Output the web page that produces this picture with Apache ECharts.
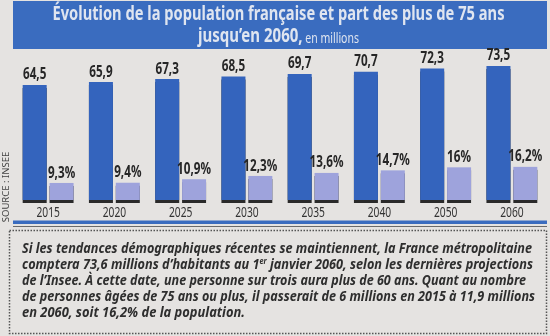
<!DOCTYPE html>
<html><head><meta charset="utf-8">
<script src="https://cdn.jsdelivr.net/npm/echarts@6/dist/echarts.min.js"></script>
<style>html,body{margin:0;padding:0;background:#e5e3e1}#c{width:550px;height:336px}</style>
</head><body><div id="c"></div>
<script>
const years = ['2015','2020','2025','2030','2035','2040','2050','2060'];
const population = [64.5,65.9,67.3,68.5,69.7,70.7,72.3,73.5];
const share75 = [9.3,9.4,10.9,12.3,13.6,14.7,16,16.2];
const titleLine1 = 'Évolution de la population française et part des plus de 75 ans';
const titleLine2a = 'jusqu’en 2060,';
const titleLine2b = 'en millions';
const sourceText = 'SOURCE : INSEE';
const paragraph = [
  ['Si les tendances démographiques récentes se maintiennent, la France métropolitaine'],
  ['comptera 73,6 millions d’habitants au 1', 'er', ' janvier 2060, selon les dernières projections'],
  ['de l’Insee. À cette date, une personne sur trois aura plus de 60 ans. Quant au nombre'],
  ['de personnes âgées de 75 ans ou plus, il passerait de 6 millions en 2015 à 11,9 millions'],
  ['en 2060, soit 16,2% de la population.']
];

const FF = "'Noto Sans','Open Sans',sans-serif";
const fmt = v => String(v).replace('.', ',');
const ctx = document.createElement('canvas').getContext('2d');
const tw = (t, font) => { ctx.font = font; return ctx.measureText(t).width; };

// fonts
const fTitle = 'bold 20px ' + FF;
const fTitleSmall = '14px ' + FF;
const fPara = 'italic bold 14px ' + FF;
const fSup = 'italic bold 8px ' + FF;
const fVal = 'bold 16px ' + FF;
const fYear = '15px ' + FF;

// horizontal condensing factors (to mimic the condensed newspaper typeface)
const sVal = 23.4 / tw('64,5', fVal);
const sYear = 23.5 / tw('2015', fYear);
const sT1 = 452 / tw(titleLine1, fTitle);
const w2a = tw(titleLine2a, fTitle), w2b = tw(titleLine2b, fTitleSmall), wsp = tw(' ', fTitleSmall);
const sT2 = 161 / (w2a + wsp + w2b);

const graphics = [
  {type: 'rect', shape: {x: 13, y: 1, width: 534, height: 48}, style: {fill: '#3a6cbf'}},
  {type: 'text', x: 278.5, y: 21 - 0.32 * 20, scaleX: sT1,
    style: {text: titleLine1, font: fTitle, fill: '#dfe5f0', align: 'center', verticalAlign: 'middle'}},
  {type: 'text', x: 278.5 - 80.5, y: 43 - 0.32 * 20, scaleX: sT2,
    style: {text: titleLine2a, font: fTitle, fill: '#dfe5f0', align: 'left', verticalAlign: 'middle'}},
  {type: 'text', x: 278.5 - 80.5 + (w2a + wsp) * sT2, y: 43 - 0.32 * 14, scaleX: sT2,
    style: {text: titleLine2b, font: fTitleSmall, fill: '#dfe5f0', align: 'left', verticalAlign: 'middle'}},
  {type: 'rect', shape: {x: 13, y: 220.5, width: 534, height: 3.5}, style: {fill: '#3a6cbf'}},
  {type: 'rect', shape: {x: 13, y: 226, width: 534, height: 1}, style: {fill: '#6a6a6a'}},
  {type: 'rect', shape: {x: 9.5, y: 230.5, width: 537, height: 103}, style: {fill: 'none', stroke: '#555', lineWidth: 1.5, lineDash: [1.5, 1.5]}},
  {type: 'text', x: 6, y: 187, rotation: Math.PI / 2,
    style: {text: sourceText, font: '9.5px ' + FF, fill: '#444', align: 'center', verticalAlign: 'middle'}}
];

// paragraph lines, each condensed to fit its width in the box
const lineEnds = [532, 533, 526, 535, 245];
const paraX = 22;
paragraph.forEach((parts, i) => {
  let w, text;
  if (parts.length === 3) {
    w = tw(parts[0], fPara) + tw(parts[1], fSup) + tw(parts[2], fPara);
    text = parts[0] + '{sup|' + parts[1] + '}' + parts[2];
  } else {
    w = tw(parts[0], fPara);
    text = parts[0];
  }
  const s = (lineEnds[i] - paraX) / w;
  graphics.push({type: 'text', x: paraX, y: 253 + i * 16.2 - 0.32 * 14, scaleX: s,
    style: {text: text, font: fPara, fill: '#2e2e2e', align: 'left', verticalAlign: 'middle',
      rich: {sup: {font: fSup, fill: '#2e2e2e', verticalAlign: 'top', lineHeight: 8}}}});
});

const OFF = 13.44; // half of bar+gap offset inside a category
function valueLabel(dx, suffix) {
  return function (params, api) {
    const p = api.coord([api.value(0), api.value(1)]);
    return {type: 'text', x: p[0] + dx, y: p[1] - 2, scaleX: sVal,
      style: {text: fmt(api.value(1)) + suffix, font: fVal, fill: '#262626', align: 'center', verticalAlign: 'bottom'}};
  };
}

const chart = echarts.init(document.getElementById('c'));
chart.setOption({
  backgroundColor: '#e5e3e1',
  animation: false,
  grid: {left: 15, right: 5, top: 60, bottom: 136},
  xAxis: {
    type: 'category', data: years,
    axisLine: {show: false}, axisTick: {show: false}, axisLabel: {show: false}
  },
  yAxis: [
    {type: 'value', min: 10, max: 76.3, show: false},
    {type: 'value', min: 2, max: 62, show: false}
  ],
  series: [
    {
      type: 'bar', name: 'Population (millions)', data: population, yAxisIndex: 0, barWidth: 24, barGap: '12%',
      itemStyle: {color: '#3464bd', shadowColor: '#2a2a2a', shadowOffsetY: 3, shadowBlur: 0}
    },
    {
      type: 'bar', name: 'Part des 75 ans et plus', data: share75, yAxisIndex: 1, barWidth: 24,
      itemStyle: {color: '#9ea3dc', shadowColor: '#2a2a2a', shadowOffsetY: 3, shadowBlur: 0}
    },
    {
      type: 'custom', yAxisIndex: 0, clip: false, z: 5,
      data: population.map((v, i) => [i, v]), renderItem: valueLabel(-OFF, '')
    },
    {
      type: 'custom', yAxisIndex: 1, clip: false, z: 5,
      data: share75.map((v, i) => [i, v]), renderItem: valueLabel(OFF, '%')
    },
    {
      type: 'custom', yAxisIndex: 0, clip: false, z: 5,
      data: years.map((y, i) => [i, 10]),
      renderItem: function (params, api) {
        const p = api.coord([api.value(0), api.value(1)]);
        return {type: 'text', x: p[0], y: p[1] + 12.5, scaleX: sYear,
          style: {text: years[api.value(0)], font: fYear, fill: '#333', align: 'center', verticalAlign: 'middle'}};
      }
    }
  ],
  graphic: graphics
});
</script></body></html>
